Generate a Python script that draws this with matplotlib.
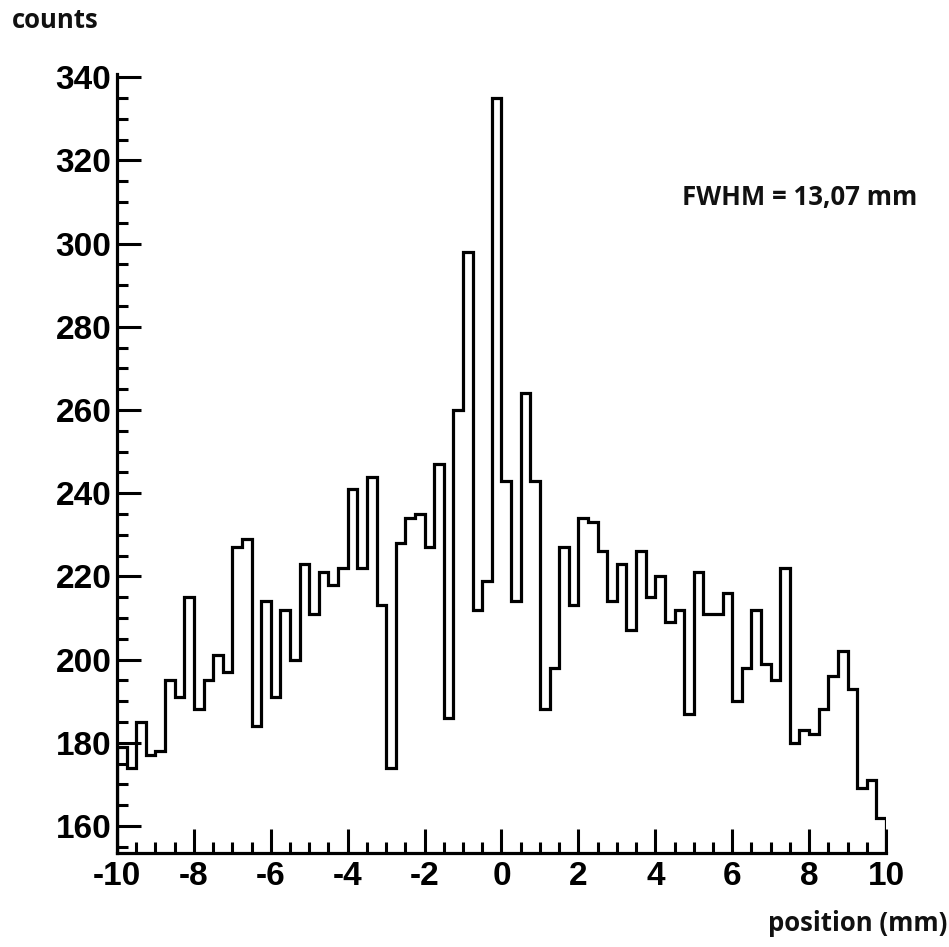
import numpy as np
import matplotlib
matplotlib.use('Agg')
import matplotlib.pyplot as plt
from matplotlib.ticker import MultipleLocator

# histogram contents, 80 bins of 0.25 mm from -10 to 10 mm
edges = np.linspace(-10, 10, 81)
counts = [179, 174, 185, 177, 178, 195, 191, 215, 188, 195,
          201, 197, 227, 229, 184, 214, 191, 212, 200, 223,
          211, 221, 218, 222, 241, 222, 244, 213, 174, 228,
          234, 235, 227, 247, 186, 260, 298, 212, 219, 335,
          243, 214, 264, 243, 188, 198, 227, 213, 234, 233,
          226, 214, 223, 207, 226, 215, 220, 209, 212, 187,
          221, 211, 211, 216, 190, 198, 212, 199, 195, 222,
          180, 183, 182, 188, 196, 202, 193, 169, 171, 162]
xticks = [-10, -8, -6, -4, -2, 0, 2, 4, 6, 8, 10]
yticks = [160, 180, 200, 220, 240, 260, 280, 300, 320, 340]
fwhm_text = 'FWHM = 13,07 mm'

ymin, ymax = 153.5, 340.8

fig = plt.figure(figsize=(9.49, 9.47), dpi=100)
ax = fig.add_axes([0.1233, 0.0993, 0.9336 - 0.1233, 0.9219 - 0.0993])

ax.stairs(counts, edges, baseline=ymin, color='black', linewidth=2.3)

ax.set_xlim(-10, 10)
ax.set_ylim(ymin, ymax)
ax.spines['top'].set_visible(False)
ax.spines['right'].set_visible(False)
ax.spines['left'].set_linewidth(2.3)
ax.spines['bottom'].set_linewidth(2.3)

ax.set_xticks(xticks)
ax.set_yticks(yticks)
ax.xaxis.set_minor_locator(MultipleLocator(0.5))
ax.yaxis.set_minor_locator(MultipleLocator(5))
ax.tick_params(which='major', direction='in', length=17, width=2.2, pad=6)
ax.tick_params(which='minor', direction='in', length=8, width=2.2)
ax.tick_params(axis='y', pad=4)
for lab in ax.get_xticklabels() + ax.get_yticklabels():
    lab.set_fontfamily('Liberation Sans')
    lab.set_fontweight('bold')
    lab.set_fontsize(24)
ax.set_xticklabels(['%d' % t for t in xticks])

txt = dict(family='Open Sans', weight='bold', fontsize=18.5, color='#111111')
fig.text(12 / 949, 1 - 21 / 947, 'counts', ha='left', va='center', **txt)
fig.text(917 / 949, 1 - 198 / 947, fwhm_text, ha='right', va='center', **txt)
fig.text(947 / 949, 1 - 923 / 947, 'position (mm)', ha='right', va='center', **txt)

fig.savefig('out.png', dpi=100)
